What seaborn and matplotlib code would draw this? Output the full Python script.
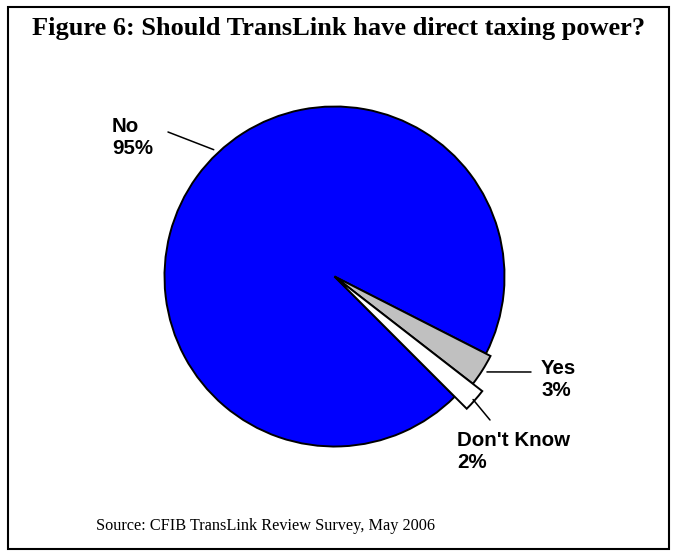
import numpy as np
import matplotlib
matplotlib.use("Agg")
import matplotlib.pyplot as plt
from matplotlib.patches import Rectangle
import seaborn as sns

# ---- data ----
categories = ["No", "Yes", "Don't Know"]
values = [95, 3, 2]
label_texts = ["No\n95%", "Yes\n3%", "Don't Know\n2%"]
title = "Figure 6: Should TransLink have direct taxing power?"
source = "Source: CFIB TransLink Review Survey, May 2006"

# ---- style ----
sns.set_theme(style="white")
plt.rcParams["font.family"] = ["Liberation Sans", "DejaVu Sans"]
plt.rcParams["text.color"] = "black"
colors = ["#0000FF", "#C0C0C0", "#FFFFFF"]
radial_scale = [1.0, 1.03, 1.10]

W, H = 677, 557
fig = plt.figure(figsize=(W / 100, H / 100), dpi=100)
ax = fig.add_axes([0, 0, 1, 1])

def py(y):
    return H - y

cx, cy, R = 334.5, py(276.5), 170.0

wedges, _ = ax.pie(values, colors=colors, startangle=-45, counterclock=False,
                   center=(cx, cy), radius=R,
                   wedgeprops=dict(edgecolor="black", linewidth=1.4, joinstyle="miter"))
for w, s in zip(wedges, radial_scale):
    w.set_radius(R * s)

ax.set_xlim(0, W)
ax.set_ylim(0, H)
ax.set_aspect("equal")
ax.axis("off")

# leader lines: (angle deg, radius factor) -> label line end (px)
leaders = [
    (133.6, 1.03, (168, 132)),
    (-32.05, 1.058, (531, 372)),
    (-41.6, 1.09, (490, 420)),
]
text_pos = [(112, 137), (541, 380), (457, 451)]

for (ang, rf, end), txt, (tx, ty) in zip(leaders, label_texts, text_pos):
    a = np.deg2rad(ang)
    sx, sy = cx + R * rf * np.cos(a), cy + R * rf * np.sin(a)
    ax.annotate("", xy=(sx, sy), xytext=(end[0], py(end[1])),
                arrowprops=dict(arrowstyle="-", lw=1.1, color="black",
                                shrinkA=0, shrinkB=0))
    ax.text(tx, py(ty), txt, ha="left", va="center", fontsize=14.8,
            fontweight="bold", color="black", linespacing=1.2,
            family=["Liberation Sans", "DejaVu Sans"])

fig.text(339 / W, 1 - 35 / H, title, ha="center", va="baseline",
         fontsize=19, fontweight="bold", color="black",
         family=["Liberation Serif", "DejaVu Serif"])
fig.text(266 / W, 1 - 526 / H, source, ha="center", va="center",
         fontsize=11.7, color="black",
         family=["Liberation Serif", "DejaVu Serif"])

fig.patches.append(Rectangle((8 / W, 1 - 549 / H), (669 - 8) / W, (549 - 7) / H,
                             transform=fig.transFigure, fill=False,
                             edgecolor="black", linewidth=1.5))

fig.savefig("out.png", dpi=100)
